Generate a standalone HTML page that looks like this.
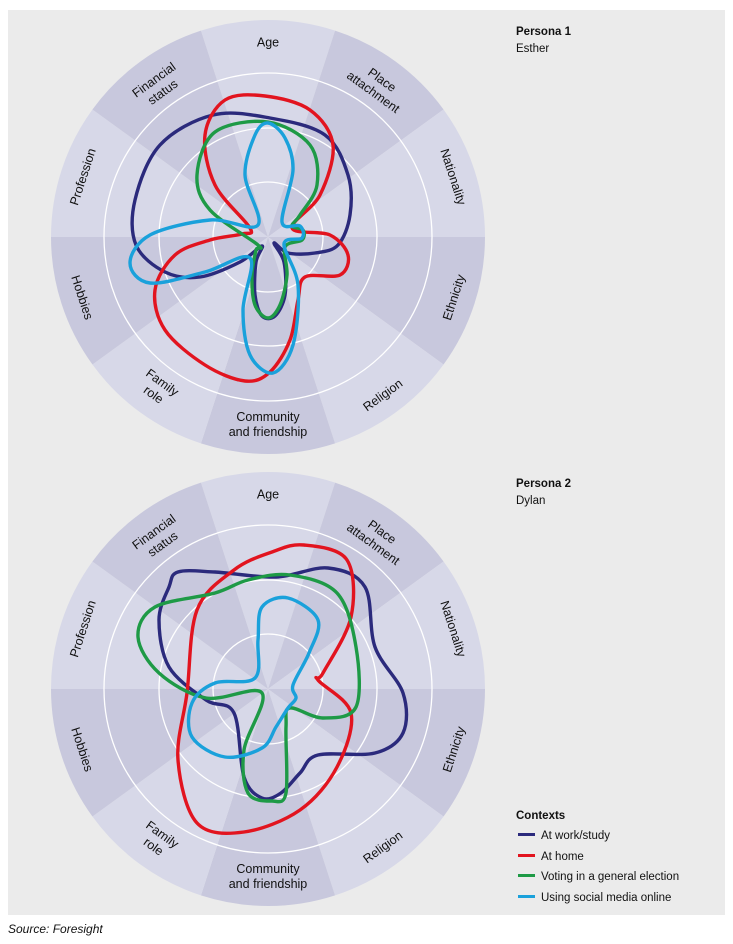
<!DOCTYPE html>
<html><head><meta charset="utf-8">
<style>
body{margin:0;background:#fff;width:733px;height:944px;overflow:hidden;font-family:"Liberation Sans",sans-serif;}
</style></head><body>
<svg id="s" width="733" height="944" xmlns="http://www.w3.org/2000/svg" style="position:absolute;left:0;top:0">
<rect x="8" y="10" width="717" height="905" fill="#ebebeb"/>
<g id="c1"></g><g id="c2"></g>
<text x="516" y="35" font-size="11.5" font-weight="bold" fill="#111" font-family="Liberation Sans">Persona 1</text>
<text x="516" y="52" font-size="11.5" fill="#111" font-family="Liberation Sans">Esther</text>
<text x="516" y="487" font-size="11.5" font-weight="bold" fill="#111" font-family="Liberation Sans">Persona 2</text>
<text x="516" y="504" font-size="11.5" fill="#111" font-family="Liberation Sans">Dylan</text>
<text x="516" y="819" font-size="11.5" font-weight="bold" fill="#111" font-family="Liberation Sans">Contexts</text>
<rect x="518" y="833" width="17" height="3" fill="#2b2a7c"/><text x="541" y="839" font-size="11.5" fill="#111" font-family="Liberation Sans">At work/study</text>
<rect x="518" y="854" width="17" height="3" fill="#e2141f"/><text x="541" y="860" font-size="11.5" fill="#111" font-family="Liberation Sans">At home</text>
<rect x="518" y="874" width="17" height="3" fill="#1e9a46"/><text x="541" y="880" font-size="11.5" fill="#111" font-family="Liberation Sans">Voting in a general election</text>
<rect x="518" y="895" width="17" height="3" fill="#1aa1db"/><text x="541" y="901" font-size="11.5" fill="#111" font-family="Liberation Sans">Using social media online</text>
<text x="8" y="933" font-size="12" font-style="italic" fill="#111" font-family="Liberation Sans">Source: Foresight</text>
</svg>
<script>
var NS="http://www.w3.org/2000/svg";
var labels=[["Age"],["Place","attachment"],["Nationality"],["Ethnicity"],["Religion"],["Community","and friendship"],["Family","role"],["Hobbies"],["Profession"],["Financial","status"]];
function el(t,a,p){var e=document.createElementNS(NS,t);for(var k in a)e.setAttribute(k,a[k]);p.appendChild(e);return e;}
function cr(pts){var n=pts.length,d="M"+pts[0][0]+","+pts[0][1];for(var i=0;i<n;i++){var p0=pts[(i-1+n)%n],p1=pts[i],p2=pts[(i+1)%n],p3=pts[(i+2)%n];
d+=" C"+(p1[0]+(p2[0]-p0[0])/6).toFixed(1)+","+(p1[1]+(p2[1]-p0[1])/6).toFixed(1)+" "+(p2[0]-(p3[0]-p1[0])/6).toFixed(1)+","+(p2[1]-(p3[1]-p1[1])/6).toFixed(1)+" "+p2[0]+","+p2[1];}return d+"Z";}
function chart(g,cx,cy,series){
 var R=217;
 for(var i=0;i<10;i++){var a0=(i*36-18-90)*Math.PI/180,a1=(i*36+18-90)*Math.PI/180;
  el("path",{d:"M"+cx+","+cy+" L"+(cx+R*Math.cos(a0))+","+(cy+R*Math.sin(a0))+" A"+R+","+R+" 0 0 1 "+(cx+R*Math.cos(a1))+","+(cy+R*Math.sin(a1))+"Z",fill:i%2?"#c8c8dd":"#d7d8e8"},g);}
 [55,109,164].forEach(function(r){el("circle",{cx:cx,cy:cy,r:r,fill:"none",stroke:"#fff","stroke-width":1.3},g);});
 for(var i=0;i<10;i++){var ang=i*36,rad=(ang-90)*Math.PI/180,rr=labels[i].length>1?187:195;
  var x=cx+rr*Math.cos(rad),y=cy+rr*Math.sin(rad),rot=(ang>90&&ang<270)?ang-180:ang;
  var t=el("text",{"font-size":12.5,fill:"#111","font-family":"Liberation Sans","text-anchor":"middle",transform:"translate("+x.toFixed(1)+","+y.toFixed(1)+") rotate("+rot+")"},g);
  var L=labels[i];for(var j=0;j<L.length;j++){var ts=el("tspan",{x:0,y:(j-(L.length-1)/2)*15+4.5},t);ts.textContent=L[j];}}
 var cols=["#2b2a7c","#e2141f","#1e9a46","#1aa1db"];
 series.forEach(function(p,k){el("path",{d:cr(p),fill:"none",stroke:cols[k],"stroke-width":3.4,"stroke-linejoin":"round"},g);});
}
chart(document.getElementById("c1"),268,237,[
[[213,115],[270,118],[325,135],[348,175],[350,215],[338,245],[315,253],[288,253],[274,243],[284,262],[285,295],[275,316],[262,316],[255,295],[256,262],[262,246],[240,262],[200,277],[165,272],[136,245],[135,200],[160,145]],
[[250,228],[215,185],[205,135],[225,100],[265,96],[310,110],[333,145],[320,195],[292,228],[330,235],[348,255],[340,275],[305,277],[298,300],[290,340],[270,372],[245,381],[205,365],[165,330],[155,290],[175,255],[210,240],[242,234]],
[[258,245],[210,210],[197,175],[215,132],[268,122],[310,145],[317,185],[300,215],[292,226],[303,230],[302,240],[285,247],[287,275],[280,305],[268,318],[255,305],[252,275],[256,250]],
[[258,225],[245,175],[255,135],[268,123],[285,138],[293,170],[282,222],[300,226],[302,238],[284,244],[298,285],[293,345],[273,373],[250,355],[243,310],[250,258],[205,272],[150,283],[130,263],[150,235],[210,220]]
]);
chart(document.getElementById("c2"),268,689,[
[[178,572],[215,572],[276,577],[328,568],[365,587],[375,647],[403,693],[403,733],[375,753],[318,755],[300,773],[281,793],[262,798],[244,777],[234,713],[206,700],[169,667],[159,620],[169,587]],
[[304,545],[347,560],[351,617],[323,673],[318,680],[351,713],[337,767],[300,810],[244,832],[197,823],[178,760],[187,693],[197,610],[234,570],[272,552]],
[[290,575],[337,593],[356,647],[356,707],[323,718],[290,708],[286,727],[286,793],[272,801],[248,793],[244,750],[262,693],[206,698],[159,673],[138,637],[155,607],[215,593],[248,580]],
[[288,598],[318,620],[309,653],[293,685],[296,698],[288,708],[276,727],[262,748],[225,757],[192,737],[192,703],[215,683],[255,678],[258,640],[262,607]]
]);
</script>
</body></html>
